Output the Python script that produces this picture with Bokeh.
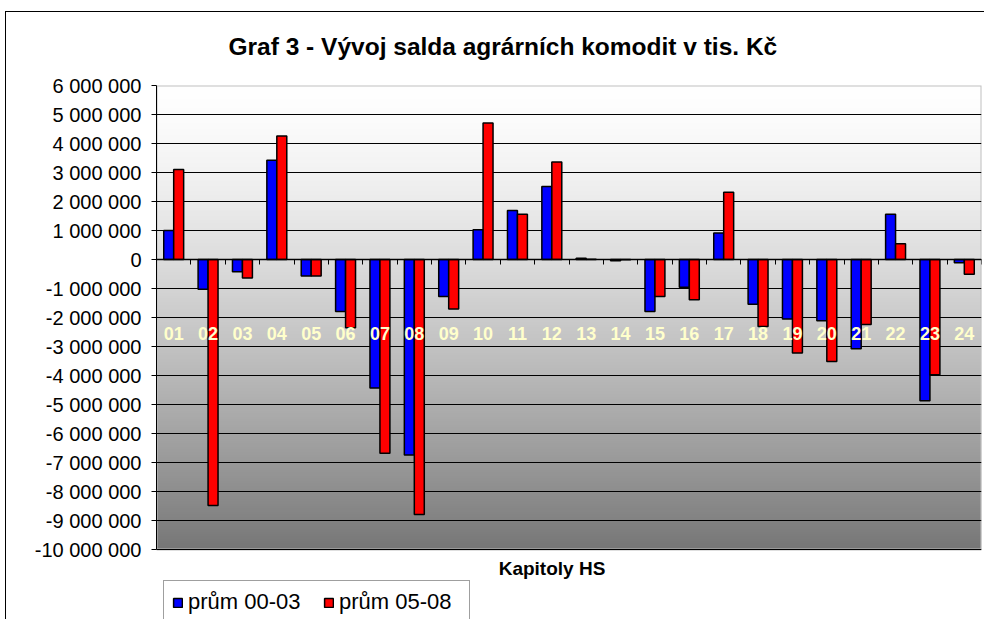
import numpy as np
from bokeh.plotting import figure
from bokeh.models import (Range1d, LinearAxis, FixedTicker, SingleIntervalTicker,
                          CustomJSTickFormatter, Legend, LegendItem, ColumnDataSource, Label,
                          InlineStyleSheet)
from bokeh.transform import dodge
from bokeh.embed import file_html
from bokeh.resources import INLINE

# ---------------- data ----------------
categories = ["01", "02", "03", "04", "05", "06", "07", "08", "09", "10", "11", "12",
              "13", "14", "15", "16", "17", "18", "19", "20", "21", "22", "23", "24"]
prum_00_03 = [1000000, -1030000, -420000, 3420000, -570000, -1790000, -4430000, -6740000,
              -1280000, 1030000, 1690000, 2520000, 40000, -40000, -1790000, -960000,
              910000, -1540000, -2050000, -2110000, -3080000, 1560000, -4870000, -110000]
prum_05_08 = [3100000, -8480000, -640000, 4260000, -570000, -2350000, -6680000, -8790000,
              -1710000, 4710000, 1560000, 3360000, 5000, -5000, -1280000, -1390000,
              2320000, -2310000, -3220000, -3520000, -2240000, 540000, -3970000, -510000]
series_names = ["prům 00-03", "prům 05-08"]
title_text = "Graf 3 - Vývoj salda agrárních komodit v tis. Kč"
x_title = "Kapitoly HS"
y_min, y_max, y_step = -10000000, 6000000, 1000000

FONT = "Liberation Sans"
W, H = 984, 619
TOP, LEFT, RIGHT = 85, 156, 3
PLOT_H = 464          # pixel height of the value area (y_min..y_max)
EXTRA = H - TOP - PLOT_H  # room below the value area for axis title + legend

pos = list(range(1, len(categories) + 1))
src = ColumnDataSource(dict(x=pos, a=prum_00_03, b=prum_05_08))

x_lo, x_hi = 0.5, len(categories) + 0.5
y_lo = y_min - (y_max - y_min) * EXTRA / PLOT_H

p = figure(width=W, height=H, output_backend="svg", toolbar_location=None,
           x_range=Range1d(x_lo, x_hi), y_range=Range1d(y_lo, y_max),
           x_axis_location=None, min_border_left=LEFT, min_border_right=RIGHT,
           min_border_top=TOP, min_border_bottom=0, title=title_text)
p.border_fill_color = "white"
p.background_fill_color = "white"
p.outline_line_color = None

# outer chart-area border (left and top edges visible in the crop)
p.stylesheets = [InlineStyleSheet(css="""
:host { position: relative; }
:host::after { content: ""; position: absolute; left: 5px; top: 11px; right: -20px; bottom: -20px;
  border-left: 1px solid #000; border-top: 1px solid #000; pointer-events: none; }
""")]

# title
p.title.text_font = FONT
p.title.text_font_size = "24.5px"
p.title.text_font_style = "bold"
p.title.text_color = "black"
p.title.align = "left"
p.title.offset = 72
p.title.standoff = 52

# gradient background of the value area
n = 400
frac_top = 1 - np.arange(n) / (n - 1)
g = (255 - 136 * frac_top ** 1.4).astype(np.uint8)
img = np.empty((n, 2), dtype=np.uint32)
view = img.view(dtype=np.uint8).reshape((n, 2, 4))
view[:, :, 0] = g[:, None]
view[:, :, 1] = g[:, None]
view[:, :, 2] = g[:, None]
view[:, :, 3] = 255
p.image_rgba(image=[img], x=x_lo, y=y_min, dw=x_hi - x_lo, dh=y_max - y_min, level="image")

# y axis
yticker = SingleIntervalTicker(interval=y_step)
yax = p.yaxis[0]
yax.ticker = yticker
yax.bounds = (y_min, y_max)
yax.formatter = CustomJSTickFormatter(
    code="return Math.round(tick).toString().replace(/\\B(?=(\\d{3})+(?!\\d))/g, ' ');")
yax.axis_line_color = "black"
yax.axis_line_width = 1
yax.major_tick_out = 5
yax.major_tick_in = 0
yax.minor_tick_out = 0
yax.minor_tick_in = 0
yax.major_label_standoff = 10
yax.major_label_text_font = FONT
yax.major_label_text_font_size = "20px"
yax.major_label_text_color = "black"
p.ygrid.ticker = yticker
p.ygrid.bounds = (y_min, y_max)
p.ygrid.grid_line_color = "black"
p.ygrid.grid_line_width = 1
p.xgrid.visible = False

# plot-area border
p.quad(left=x_lo, right=x_hi, bottom=y_min, top=y_max, fill_color=None,
       line_color="#C0C0C0", line_width=2, level="underlay")

# bars
w = 0.29
r1 = p.vbar(x=dodge("x", -w / 2), top="a", bottom=0, width=w, source=src,
            fill_color="#0000FF", line_color="black", line_width=1.5)
r2 = p.vbar(x=dodge("x", w / 2), top="b", bottom=0, width=w, source=src,
            fill_color="#FF0000", line_color="black", line_width=1.5)

# category axis at zero: ticks between categories, labels below
boundaries = [i + 0.5 for i in range(len(categories) + 1)]
tick_axis = LinearAxis(fixed_location=0, ticker=FixedTicker(ticks=boundaries),
                       major_label_text_color=None, major_tick_out=5, major_tick_in=0,
                       minor_tick_out=0, minor_tick_in=0, axis_line_color="black",
                       axis_line_width=1.5)
label_axis = LinearAxis(fixed_location=0, ticker=FixedTicker(ticks=pos),
                        major_label_overrides={i: c for i, c in zip(pos, categories)},
                        major_tick_out=0, major_tick_in=0, minor_tick_out=0, minor_tick_in=0,
                        axis_line_color=None, major_label_standoff=67,
                        major_label_text_font=FONT, major_label_text_font_size="18px",
                        major_label_text_font_style="bold", major_label_text_color="#FFFFCC")
p.add_layout(tick_axis, "below")
p.add_layout(label_axis, "below")

# x axis title
p.add_layout(Label(x=(x_lo + x_hi) / 2, y=y_min, x_offset=-17, y_offset=-19, text=x_title,
                   text_font=FONT, text_font_size="19px", text_font_style="bold",
                   text_color="black", text_align="center", text_baseline="middle"))

# legend
legend = Legend(items=[LegendItem(label=series_names[0], renderers=[r1]),
                       LegendItem(label=series_names[1], renderers=[r2])],
                orientation="horizontal", location=(7, -5),
                glyph_width=11, glyph_height=11, label_standoff=5, spacing=13, padding=8,
                label_width=122,
                label_text_font=FONT, label_text_font_size="22px", label_text_color="black",
                border_line_color="#404040", border_line_width=1,
                background_fill_color="white", background_fill_alpha=1)
p.add_layout(legend, "center")

open("out.html", "w").write(file_html(p, INLINE))
